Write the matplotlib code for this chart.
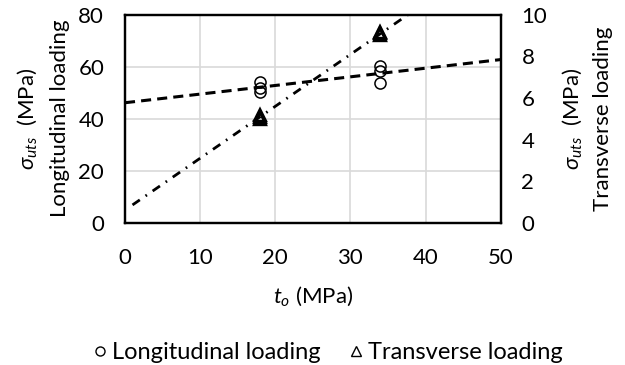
import numpy as np
import matplotlib
matplotlib.use("Agg")
import matplotlib.pyplot as plt
from matplotlib.lines import Line2D

plt.rcParams['font.family'] = ['Lato', 'DejaVu Sans']
plt.rcParams['mathtext.fontset'] = 'custom'
plt.rcParams['mathtext.rm'] = 'Lato'
plt.rcParams['mathtext.it'] = 'Lato:italic'

# Data
long_x = [18, 18, 18, 34, 34, 34]
long_y = [54.0, 52.0, 50.4, 60.1, 58.4, 53.8]
trans_x = [18, 18, 18, 34, 34, 34]
trans_y = [5.0, 5.1, 5.2, 9.0, 9.1, 9.15]

x_ticks = [0, 10, 20, 30, 40, 50]
yl_ticks = [0, 20, 40, 60, 80]
yr_ticks = [0, 2, 4, 6, 8, 10]

fig = plt.figure(figsize=(6.25, 3.65), dpi=100)
ax = fig.add_axes([0.2, 0.389, 0.601, 0.571])
ax2 = ax.twinx()

fs = 16
ax.set_xlim(0, 50)
ax.set_ylim(0, 80)
ax2.set_ylim(0, 10)
ax.set_xticks(x_ticks)
ax.set_yticks(yl_ticks)
ax2.set_yticks(yr_ticks)
ax.grid(True, color='#d9d9d9', linewidth=1.2)
ax.set_axisbelow(True)
for a in (ax, ax2):
    for s in a.spines.values():
        s.set_linewidth(1.6)
        s.set_color('black')
    a.tick_params(length=0, labelsize=fs, pad=15)
ax.tick_params(axis='x', pad=18)

# trend lines
pl = np.polyfit(long_x, long_y, 1)
xl = np.array([0, 50])
ax.plot(xl, np.polyval(pl, xl), color='black', lw=2.2, dashes=(3.3, 2.0), zorder=3)
pt = np.polyfit(trans_x, trans_y, 1)
xt = np.linspace(1, 50, 200)
ax2.plot(xt, np.polyval(pt, xt), color='black', lw=2.0, dashes=(3.2, 2.5, 0.6, 2.5), zorder=3)

ax.plot(long_x, long_y, 'o', mfc='none', mec='black', ms=8, mew=1.1, zorder=4)
ax2.plot(trans_x, trans_y, '^', mfc='none', mec='black', ms=8, mew=1.7, zorder=4)

ax.set_xlabel(r'$\it{t}_{o}$ (MPa)', fontsize=fs, labelpad=12)
fig.text(0.043, 0.675, r'$\sigma_{uts}$  (MPa)', rotation=90, fontsize=fs, ha='center', va='center')
fig.text(0.096, 0.675, 'Longitudinal loading', rotation=90, fontsize=fs, ha='center', va='center')
fig.text(0.915, 0.675, r'$\sigma_{uts}$  (MPa)', rotation=90, fontsize=fs, ha='center', va='center')
fig.text(0.965, 0.675, 'Transverse loading', rotation=90, fontsize=fs, ha='center', va='center')

handles = [Line2D([], [], ls='none', marker='o', mfc='none', mec='black', ms=6.5, mew=1),
           Line2D([], [], ls='none', marker='^', mfc='none', mec='black', ms=6.5, mew=1)]
fig.legend(handles, ['Longitudinal loading', 'Transverse loading'], loc='center',
           bbox_to_anchor=(0.525, 0.033), ncol=2, frameon=False, fontsize=17,
           handlelength=0.6, handletextpad=0.2, columnspacing=1.2)

fig.savefig('out.png', dpi=100)
